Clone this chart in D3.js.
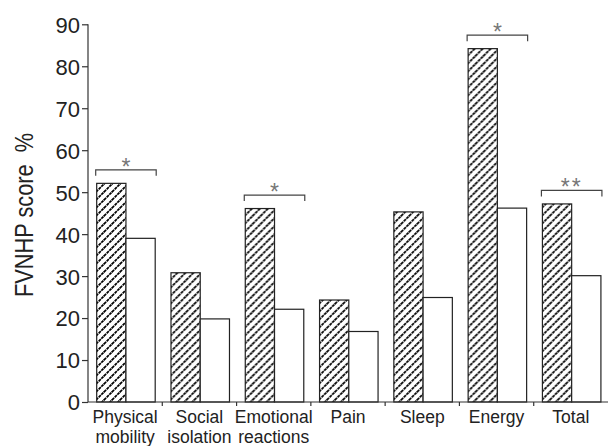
<!DOCTYPE html>
<html><head><meta charset="utf-8">
<script src="https://cdn.jsdelivr.net/npm/d3@7"></script>
<style>body{margin:0;background:#fff}svg{display:block}text{font-family:"Liberation Sans",Arial,sans-serif}</style>
</head><body><svg id="c" width="608" height="446"></svg>
<script>
const categories = ["Physical mobility","Social isolation","Emotional reactions","Pain","Sleep","Energy","Total"];
const labelLines = [["Physical","mobility"],["Social","isolation"],["Emotional","reactions"],["Pain"],["Sleep"],["Energy"],["Total"]];
const series = ["hatched","open"];
const hatchedValues = [52.1, 30.8, 46.1, 24.3, 45.3, 84.2, 47.2];
const openValues = [39.0, 19.8, 22.1, 16.8, 24.9, 46.2, 30.1];
const yTicks = [0,10,20,30,40,50,60,70,80,90];
const sigCategories = ["Physical mobility","Emotional reactions","Energy","Total"];
const sigMarks = ["*","*","*","**"];

const svg = d3.select("#c");
const defs = svg.append("defs");
const S = 8;
const p = defs.append("pattern").attr("id","hatch").attr("patternUnits","userSpaceOnUse")
  .attr("width",S).attr("height",S);
p.append("rect").attr("width",S).attr("height",S).attr("fill","#fff");
p.append("path").attr("d",`M-1,1 L1,-1 M0,${S} L${S},0 M${S-1},${S+1} L${S+1},${S-1}`)
  .attr("stroke","#000").attr("stroke-width",1.7).attr("stroke-dasharray","3.0,0.77");

const y = d3.scaleLinear().domain([0,90]).range([402,24.3]);
const x0 = d3.scaleBand().domain(categories).range([88,608]).padding(0);
const x1 = d3.scaleBand().domain(series).range([8.7,67.2]).padding(0);

const data = categories.map((c,i)=>({c, vals:[{s:"hatched",v:hatchedValues[i]},{s:"open",v:openValues[i]}]}));

const g = svg.append("g");
g.selectAll("g.grp").data(data).join("g").attr("class","grp")
 .attr("transform",d=>`translate(${x0(d.c)},0)`)
 .selectAll("rect").data(d=>d.vals).join("rect")
 .attr("x",d=>x1(d.s)).attr("width",x1.bandwidth())
 .attr("y",d=>y(d.v)).attr("height",d=>y(0)-y(d.v))
 .attr("fill",d=>d.s==="hatched"?"url(#hatch)":"#fff")
 .attr("stroke","#222").attr("stroke-width",1.2);

// y axis
const yAxis = d3.axisLeft(y).tickValues(yTicks).tickSize(6).tickPadding(2);
const ya = svg.append("g").attr("transform","translate(88,0)").call(yAxis);
ya.select(".domain").attr("d",`M0,${y(90)}V${y(0)}`).attr("stroke","#333").attr("stroke-width",1.2);
ya.selectAll(".tick line").attr("stroke","#333").attr("stroke-width",1.2);
ya.selectAll(".tick text").attr("font-size",22).attr("fill","#222").attr("dy","0.36em");

// x axis
const xa = svg.append("g").attr("transform",`translate(0,${y(0)})`);
xa.append("line").attr("x1",88).attr("x2",608).attr("stroke","#333").attr("stroke-width",1.2);
xa.selectAll("line.t").data(categories.slice(1)).join("line").attr("class","t")
  .attr("x1",d=>x0(d)).attr("x2",d=>x0(d)).attr("y1",0).attr("y2",4)
  .attr("stroke","#333").attr("stroke-width",1.2);
const lt = svg.append("g").selectAll("text").data(categories).join("text")
  .attr("text-anchor","middle").attr("font-size",17.5).attr("fill","#222")
  .attr("x",d=>x0(d)+x0.bandwidth()/2).attr("y",423.3);
lt.each(function(d,i){
  const t = d3.select(this);
  labelLines[i].forEach((ln,j)=>t.append("tspan").attr("x",x0(d)+x0.bandwidth()/2).attr("dy",j?19.2:0).text(ln));
});

// y title
svg.append("text").attr("transform","translate(33,215) rotate(-90)")
  .attr("text-anchor","middle").attr("font-size",26).attr("fill","#222")
  .attr("textLength",164).attr("lengthAdjust","spacingAndGlyphs")
  .text("FVNHP score\u00a0\u00a0%");

// significance brackets
sigCategories.forEach((c,i)=>{
  const v = hatchedValues[categories.indexOf(c)];
  const by = y(v) - 13.5;
  const xl = x0(c)+x1("hatched")-1, xr = x0(c)+x1("open")+x1.bandwidth()+1;
  svg.append("path").attr("d",`M${xl},${by+6}V${by}H${xr}V${by+6}`)
    .attr("fill","none").attr("stroke","#444").attr("stroke-width",1.2);
  svg.append("text").attr("x",(xl+xr)/2).attr("y",by+5).attr("text-anchor","middle")
    .attr("font-size",23).attr("fill","#777").attr("letter-spacing",sigMarks[i].length>1?2:0)
    .text(sigMarks[i]);
});
</script></body></html>
